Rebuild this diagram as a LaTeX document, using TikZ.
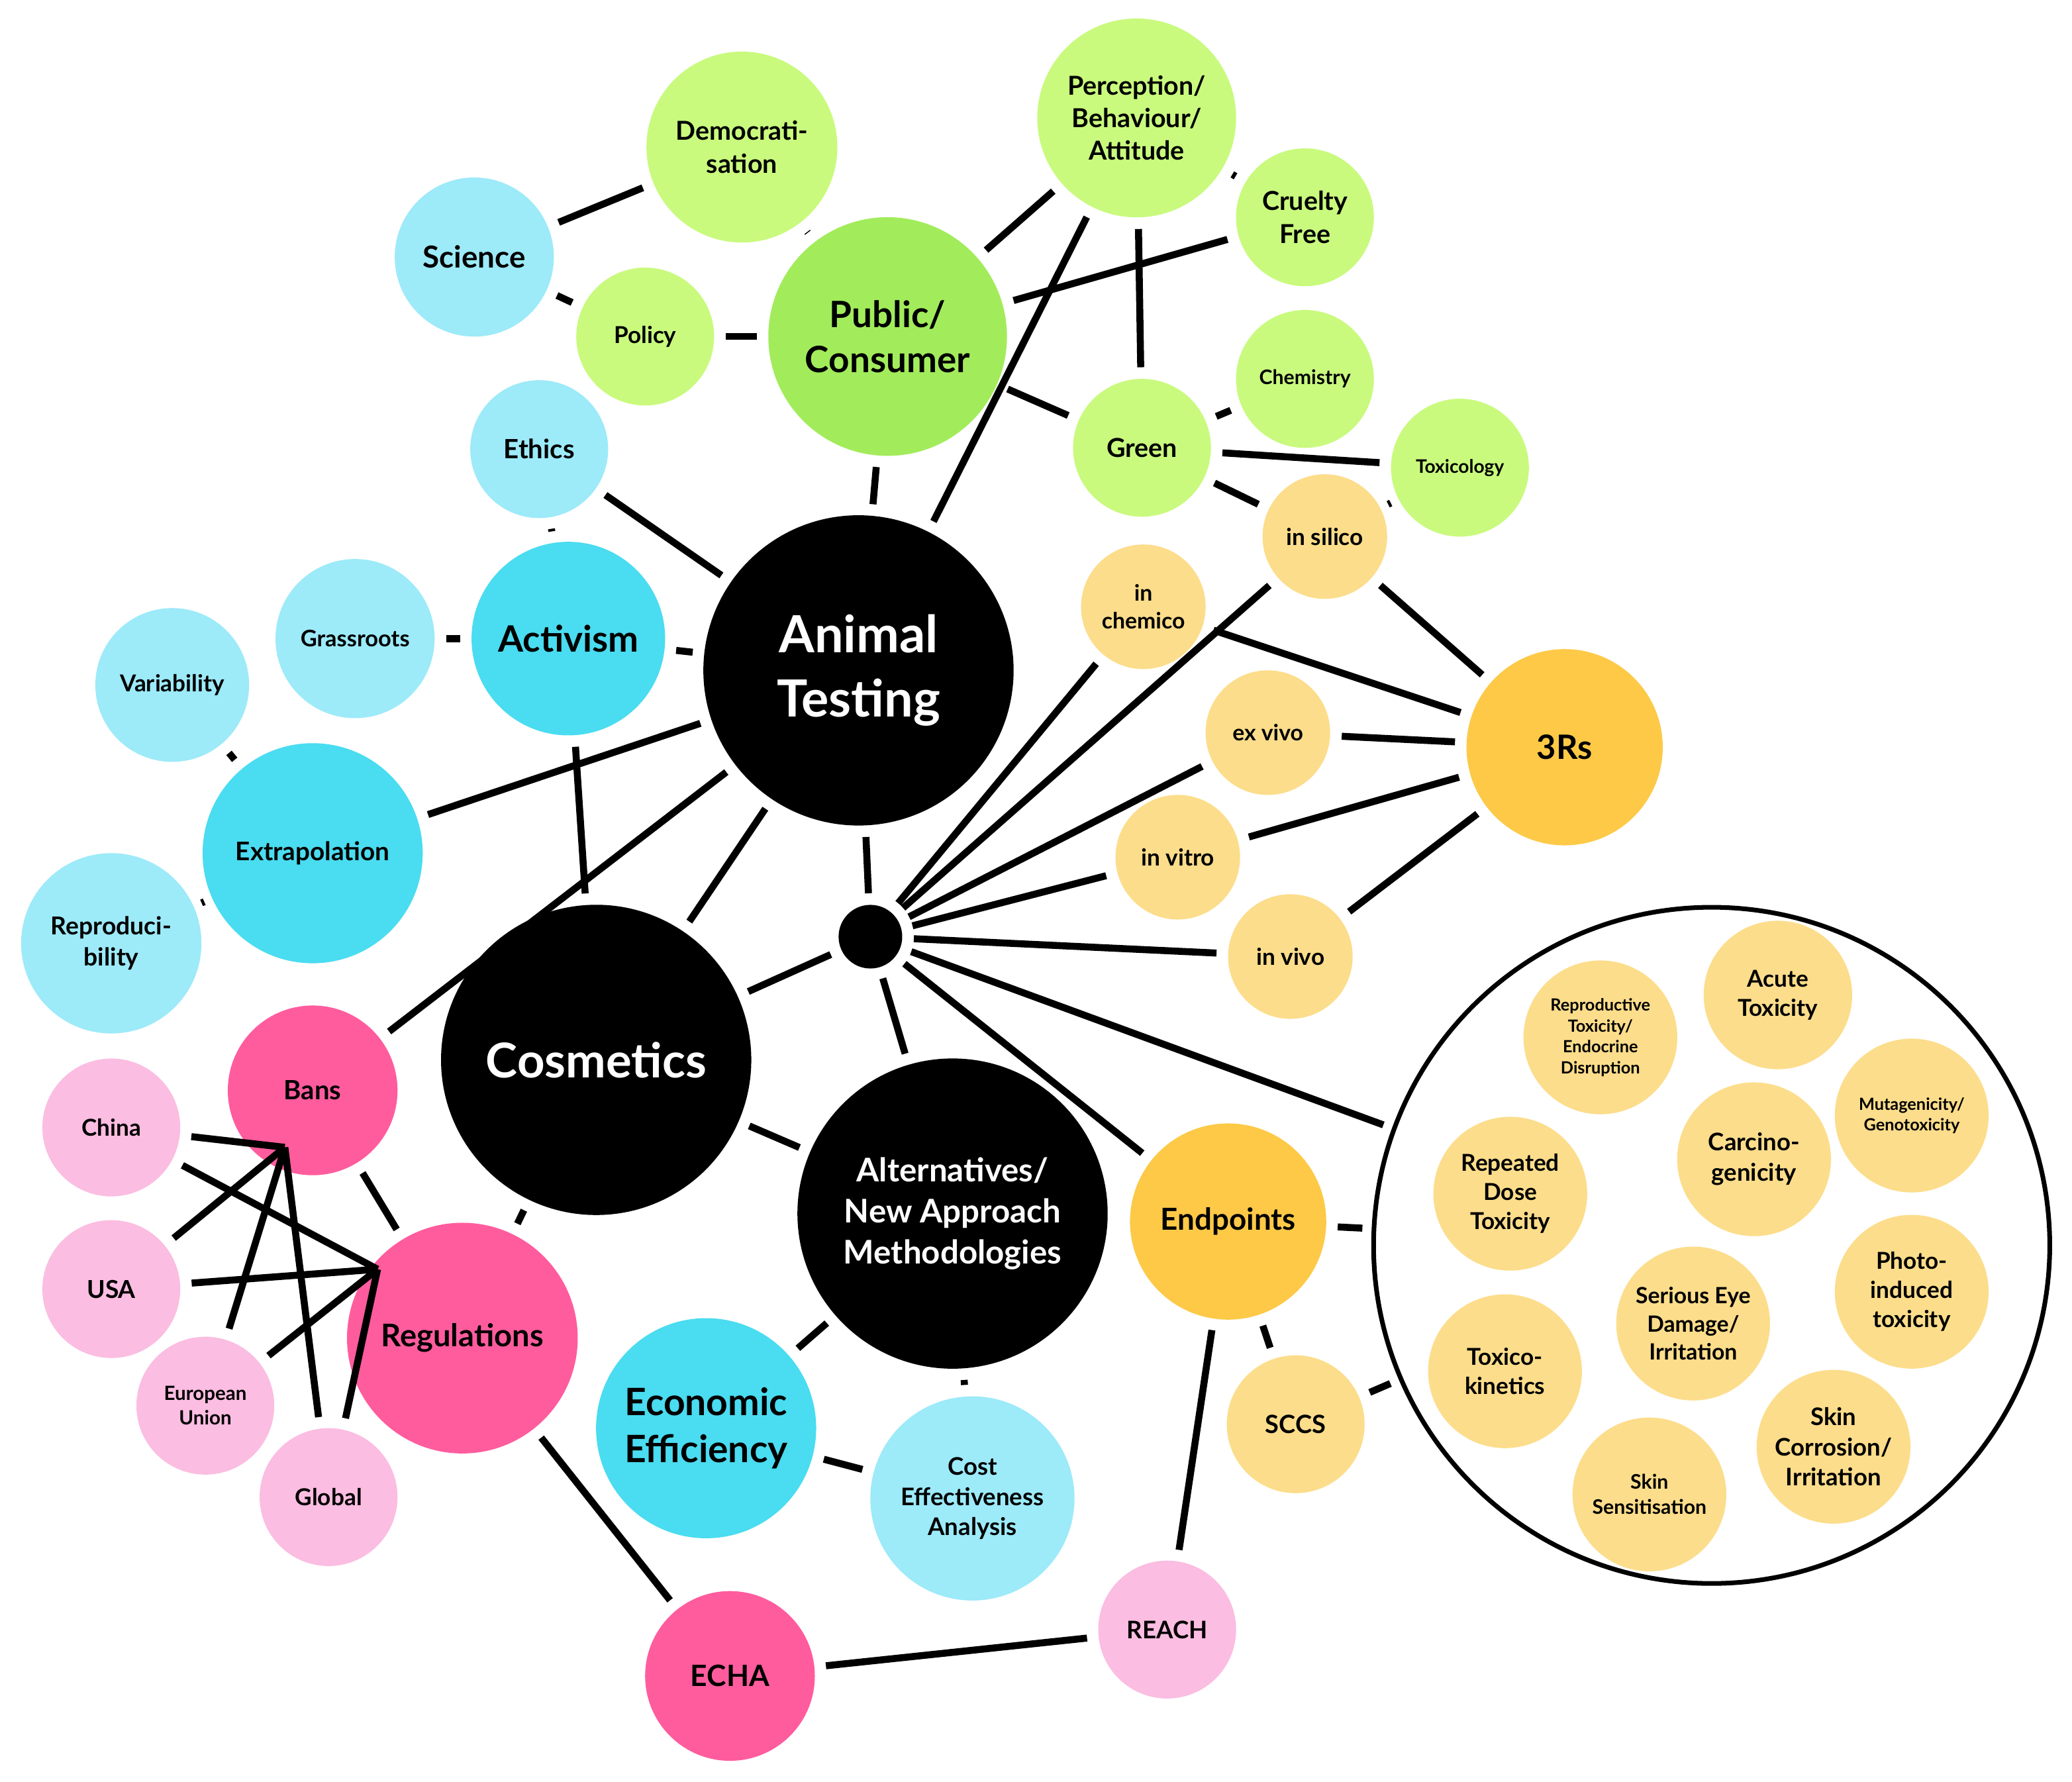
\documentclass[tikz,border=0pt]{standalone}
\usepackage{fontspec}
\setmainfont{Lato}
\usetikzlibrary{positioning}
\definecolor{lblue}{HTML}{9DEAF9}
\definecolor{cyan}{HTML}{4ADCF0}
\definecolor{lgreen}{HTML}{C9FA7E}
\definecolor{green}{HTML}{A2EC5C}
\definecolor{lyel}{HTML}{FCDD8B}
\definecolor{orange}{HTML}{FDC947}
\definecolor{lpink}{HTML}{FBBDE1}
\definecolor{pink}{HTML}{FF5C9E}
\newcommand{\fs}[1]{\bfseries\fontsize{#1}{\dimexpr #1pt*5/4\relax}\selectfont}

\begin{document}
\begin{tikzpicture}[x=0.01cm,y=-0.01cm,line width=1.5pt,
  bub/.style={circle,inner sep=0pt,outer sep=2.5pt,minimum size=#1*0.02cm,align=center,font=\fs{5}},
  lb/.style={bub=#1,fill=lblue},
  cy/.style={bub=#1,fill=cyan},
  lg/.style={bub=#1,fill=lgreen},
  gr/.style={bub=#1,fill=green},
  ly/.style={bub=#1,fill=lyel},
  og/.style={bub=#1,fill=orange},
  lp/.style={bub=#1,fill=lpink},
  pk/.style={bub=#1,fill=pink},
  bk/.style={bub=#1,fill=black,text=white}]
\useasboundingbox (0,0) rectangle (1564,1345);

%green cluster
\node[lb=60,font=\fs{6.5}] (sci) at (358,194) {Science};
\node[lg=72,font=\fs{5.6}] (dem) at (560,111) {Democrati-\\sation};
\node[lg=52] (pol) at (487,254) {Policy};
\node[gr=90,font=\fs{7.8}] (pub) at (670,254) {Public/\\Consumer};
\node[lg=75,font=\fs{5.6}] (per) at (858,89) {Perception/\\Behaviour/\\Attitude};
\node[lg=52,font=\fs{5.6}] (cru) at (985,164) {Cruelty\\Free};
\node[lg=52,font=\fs{4.3}] (che) at (985,286) {Chemistry};
\node[lg=52,font=\fs{5.6}] (grn) at (862,338) {Green};
\node[lg=52,font=\fs{4}] (tox) at (1102,353) {Toxicology};

%blue cluster
\node[lb=52,font=\fs{5.7}] (eth) at (407,339) {Ethics};
\node[cy=73,font=\fs{7.8}] (act) at (429,482) {Activism};
\node[lb=60,font=\fs{4.9}] (gra) at (268,482) {Grassroots};
\node[lb=58] (var) at (130,517) {Variability};
\node[cy=83,font=\fs{5.5}] (ext) at (236,644) {Extrapolation};
\node[lb=68,font=\fs{5.3}] (rep) at (84,712) {Reproduci-\\bility};

%black hubs
\node[bk=117,font=\fs{11}] (ani) at (648,506) {Animal\\Testing};
\node[bk=117,font=\fs{10.3}] (cos) at (450,800) {Cosmetics};
\node[bk=117,font=\fs{7}] (alt) at (719,916) {Alternatives/\\New Approach\\Methodologies};
\node[bk=24] (hub) at (657,707) {};

%3Rs cluster
\node[ly=47] (sil) at (1000,405) {in silico};
\node[ly=47,font=\fs{4.8}] (chm) at (863,458) {in\\chemico};
\node[ly=47,font=\fs{4.8}] (exv) at (957,553) {ex vivo};
\node[ly=47] (vit) at (889,647) {in vitro};
\node[ly=47] (viv) at (974,722) {in vivo};
\node[og=74,font=\fs{7.2}] (rrr) at (1181,564) {3Rs};

%pink cluster
\node[pk=64,font=\fs{5.7}] (ban) at (236,823) {Bans};
\node[lp=52] (chi) at (84,851) {China};
\node[lp=52,font=\fs{5.3}] (usa) at (84,973) {USA};
\node[lp=52,font=\fs{4.2}] (eu) at (155,1061) {European\\Union};
\node[lp=52] (glo) at (248,1130) {Global};
\node[pk=87,font=\fs{6.7}] (reg) at (349,1010) {Regulations};
\node[pk=64,font=\fs{6.3}] (ech) at (551,1265) {ECHA};
\node[lp=52,font=\fs{5.2}] (rea) at (881,1230) {REACH};

\node[cy=83,font=\fs{8.1}] (eco) at (533,1078) {Economic\\Efficiency};
\node[lb=77,font=\fs{5.2}] (cea) at (734,1131) {Cost\\Effectiveness\\Analysis};
\node[og=74,font=\fs{6.5}] (end) at (927,922) {Endpoints};
\node[ly=52,font=\fs{5.4}] (scc) at (978,1075) {SCCS};

%endpoint circle
\node[bub=255,draw,line width=1pt,fill=white] (epc) at (1292,940) {};
\node[ly=58,font=\fs{3.6}] at (1208,783) {Reproductive\\Toxicity/\\Endocrine\\Disruption};
\node[ly=56,font=\fs{5}] at (1342,751) {Acute\\Toxicity};
\node[ly=58,font=\fs{3.6}] at (1443,842) {Mutagenicity/\\Genotoxicity};
\node[ly=58] at (1140,901) {Repeated\\Dose\\Toxicity};
\node[ly=58,font=\fs{5.2}] at (1324,875) {Carcino-\\genicity};
\node[ly=58] at (1443,975) {Photo-\\induced\\toxicity};
\node[ly=58,font=\fs{4.8}] at (1278,999) {Serious Eye\\Damage/\\Irritation};
\node[ly=58] at (1136,1035) {Toxico-\\kinetics};
\node[ly=58,font=\fs{5.2}] at (1384,1092) {Skin\\Corrosion/\\Irritation};
\node[ly=58,font=\fs{4.3}] at (1245,1128) {Skin\\Sensitisation};

%connectors
\foreach \a/\b in {sci/dem,sci/pol,dem/pub,pol/pub,pub/per,pub/cru,pub/grn,pub/ani,
  per/cru,per/grn,per/ani,grn/che,grn/tox,grn/sil,tox/sil,
  sil/rrr,chm/rrr,exv/rrr,vit/rrr,viv/rrr,
  hub/sil,hub/chm,hub/exv,hub/vit,hub/viv,hub/epc,hub/end,hub/ani,hub/cos,hub/alt,
  eth/act,eth/ani,gra/act,act/ani,act/cos,var/ext,rep/ext,ext/ani,ban/ani,ban/reg,
  cos/ani,cos/alt,cos/reg,reg/ech,ech/rea,rea/end,end/scc,end/epc,scc/epc,
  alt/eco,alt/cea,eco/cea}
  \draw (\a) -- (\b);

%ban lines
\coordinate (bp) at (215,866);
\coordinate (rp) at (285,958);
\foreach \c in {chi,usa,eu,glo}
  \draw (\c) -- (bp) (\c) -- (rp);
\end{tikzpicture}
\end{document}
